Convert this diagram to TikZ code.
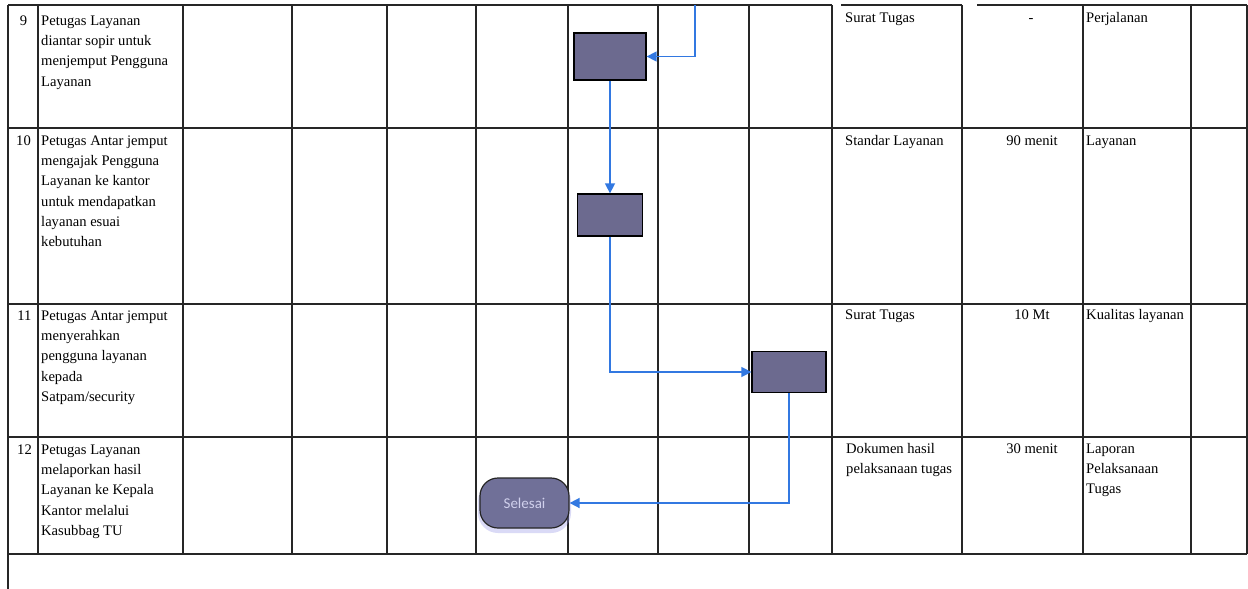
\documentclass[tikz,border=0pt]{standalone}
\usepackage{fontspec}
\setmainfont{Liberation Serif}
\newfontfamily\selfont{Carlito}
\usetikzlibrary{arrows.meta}
\definecolor{gridc}{RGB}{38,38,38}
\definecolor{boxc}{RGB}{108,106,143}
\definecolor{selc}{RGB}{112,112,152}
\definecolor{flowc}{RGB}{50,120,225}
\definecolor{seltext}{RGB}{208,208,236}
\definecolor{glowc}{RGB}{150,150,230}
\newcommand{\fstrut}{\rule{0pt}{10pt}}
\begin{document}
\begin{tikzpicture}[x=1pt,y=-1pt,
  gridline/.style={draw=gridc,line width=1.3pt},
  celltext/.style={anchor=north west,inner sep=0pt,align=left,font=\fontsize{14.6}{20.3}\selectfont},
  numtext/.style={anchor=north,inner sep=0pt,font=\fontsize{14.6}{20.3}\selectfont},
  midtext/.style={anchor=north,inner sep=0pt,font=\fontsize{14.6}{20.3}\selectfont},
  procbox/.style={draw=black,line width=1.3pt,fill=boxc,inner sep=0pt},
  selbox/.style={draw=black!85,line width=1.2pt,fill=selc,inner sep=0pt,rounded corners=18pt,
    text=seltext,font=\selfont\fontsize{15}{18}\selectfont},
  flow/.style={draw=flowc,line width=1.5pt,-{Triangle[length=10pt,width=10pt]}}]
\useasboundingbox (0,0) rectangle (1248,589);
\fill[white] (0,0) rectangle (1248,589);

% grid: top line (with small gaps)
\draw[gridline] (8,5) -- (832,5);
\draw[gridline] (841,5) -- (962,5);
\draw[gridline] (977,5) -- (1247,5);
\foreach \yy in {128,304,437,554}
  \draw[gridline] (8,\yy) -- (1247,\yy);
\draw[gridline] (8,5) -- (8,589);
\foreach \xx in {38,183,292,387,476,568,658,749,832,962,1083,1191,1247}
  \draw[gridline] (\xx,5) -- (\xx,554);

% numbers
\node[numtext] (n9) at (23.5,15) {\fstrut 9};
\node[numtext] (n10) at (23.5,135) {\fstrut 10};
\node[numtext] (n11) at (24.5,310) {\fstrut 11};
\node[numtext] (n12) at (24.5,444) {\fstrut 12};

% activity texts
\node[celltext] (t9) at (41,15) {\fstrut Petugas Layanan\\diantar sopir untuk\\menjemput Pengguna\\Layanan};
\node[celltext] (t10) at (41,135) {\fstrut Petugas Antar jemput\\mengajak Pengguna\\Layanan ke kantor\\untuk mendapatkan\\layanan esuai\\kebutuhan};
\node[celltext] (t11) at (41,310) {\fstrut Petugas Antar jemput\\menyerahkan\\pengguna layanan\\kepada\\Satpam/security};
\node[celltext] (t12) at (41,444) {\fstrut Petugas Layanan\\melaporkan hasil\\Layanan ke Kepala\\Kantor melalui\\Kasubbag TU};

% requirement column
\node[celltext] (r9) at (845,12) {\fstrut Surat Tugas};
\node[celltext] (r10) at (845,135) {\fstrut Standar Layanan};
\node[celltext] (r11) at (845,309) {\fstrut Surat Tugas};
\node[celltext] (r12) at (846,443) {\fstrut Dokumen hasil\\pelaksanaan tugas};

% time column
\node[midtext] (w9) at (1031,12) {\fstrut -};
\node[midtext] (w10) at (1032,135) {\fstrut 90 menit};
\node[midtext] (w11) at (1032,309) {\fstrut 10 Mt};
\node[midtext] (w12) at (1032,443) {\fstrut 30 menit};

% output column
\node[celltext] (o9) at (1086,12) {\fstrut Perjalanan};
\node[celltext] (o10) at (1086,135) {\fstrut Layanan};
\node[celltext] (o11) at (1086,309) {\fstrut Kualitas layanan};
\node[celltext] (o12) at (1086,443) {\fstrut Laporan\\Pelaksanaan\\Tugas};

% flow shapes
\node[procbox,minimum width=72pt,minimum height=47pt] (b1) at (610,56.5) {};
\node[procbox,minimum width=65pt,minimum height=42pt] (b2) at (610,215) {};
\node[procbox,minimum width=74pt,minimum height=41pt] (b3) at (789,372) {};
\fill[glowc,opacity=0.35,rounded corners=20pt] (478,481) rectangle (571,533);
\node[selbox,minimum width=89pt,minimum height=50pt] (sel) at (524.5,503) {Selesai};

% connectors
\coordinate (topc) at (695,5);
\draw[flow] (topc) |- (b1.east);
\draw[flow] (b1.south) -- (b2.north);
\draw[flow] (b2.south) |- (b3.west);
\draw[flow] (b3.south) |- (sel.east);
\end{tikzpicture}
\end{document}
